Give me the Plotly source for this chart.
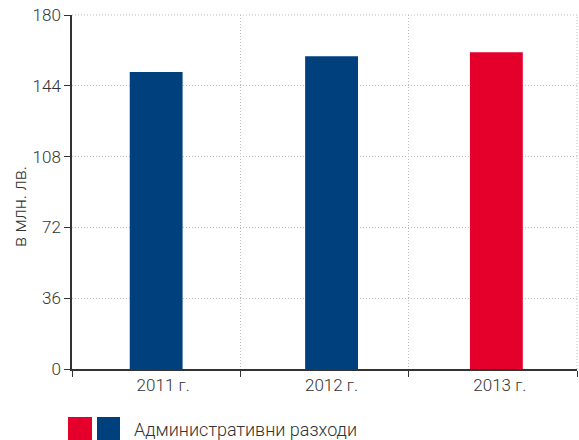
import plotly.graph_objects as go

categories = ["2011 г.", "2012 г.", "2013 г."]
values = [151, 159, 161]
bar_colors = ["#00407D", "#00407D", "#E4002B"]
y_ticks = [0, 36, 72, 108, 144, 180]
y_title = "в млн. лв."
legend_label = "Административни разходи"

# styling: bar width and per-bar offset within its category (category units)
BAR_WIDTH = 0.314
BAR_OFFSETS = [-0.157, -0.115, -0.136]

W, H = 579, 440
L, R, T, B = 72, 2, 15, 71
PW, PH = W - L - R, H - T - B
GRID = "#bdbdbd"
DASH = "1px,2px"


def px_x(x):
    return (x - L) / PW


def px_y(y):
    return (H - B - y) / PH


fig = go.Figure()
fig.add_trace(go.Bar(
    x=categories, y=values, marker_color=bar_colors,
    marker_line_width=0, width=BAR_WIDTH, offset=BAR_OFFSETS,
    showlegend=False, hoverinfo="skip",
))

fig.update_layout(
    width=W, height=H,
    margin=dict(l=L, r=R, t=T, b=B),
    paper_bgcolor="white", plot_bgcolor="white",
    font=dict(family="Roboto, Liberation Sans, sans-serif", color="#333", size=17, weight=300),
)
fig.update_yaxes(
    range=[0, 180], tickvals=y_ticks, ticks="outside", ticklen=6, tickcolor="#333",
    showline=True, linecolor="#333", linewidth=1.5,
    showgrid=True, gridcolor=GRID, griddash=DASH, gridwidth=1,
    zeroline=False, automargin=False, ticklabeloverflow="allow",
)
fig.update_xaxes(
    range=[-0.5, 2.5], tickson="boundaries", ticks="outside", ticklen=6, tickcolor="#333",
    showline=True, linecolor="#333", linewidth=1.5,
    showgrid=True, gridcolor=GRID, griddash=DASH, gridwidth=1,
    automargin=False, ticklabelshift=7,
)

# top and right dotted borders of the grid
fig.add_shape(type="line", xref="paper", yref="paper", x0=1, x1=1, y0=0, y1=1,
              line=dict(color=GRID, width=1, dash=DASH))
fig.add_shape(type="line", xref="paper", yref="paper", x0=0, x1=1, y0=1, y1=1,
              line=dict(color=GRID, width=1, dash=DASH))

# y-axis title
fig.add_annotation(text=y_title, xref="paper", yref="paper",
                   x=px_x(19), y=px_y(207), xanchor="center", yanchor="middle",
                   textangle=-90, showarrow=False, font=dict(size=18, color="#333"))

# legend drawn as swatches + label
fig.add_shape(type="rect", xref="paper", yref="paper",
              x0=px_x(68), x1=px_x(92), y0=px_y(440), y1=px_y(417),
              fillcolor="#E4002B", line_width=0)
fig.add_shape(type="rect", xref="paper", yref="paper",
              x0=px_x(97), x1=px_x(120), y0=px_y(440), y1=px_y(417),
              fillcolor="#00407D", line_width=0)
fig.add_annotation(text=legend_label, xref="paper", yref="paper",
                   x=px_x(132), y=px_y(429), xanchor="left", yanchor="middle",
                   showarrow=False, font=dict(size=18, color="#333"))

fig.write_html("out.html", config={"displayModeBar": False},
               post_script="document.body.style.margin='0';")
